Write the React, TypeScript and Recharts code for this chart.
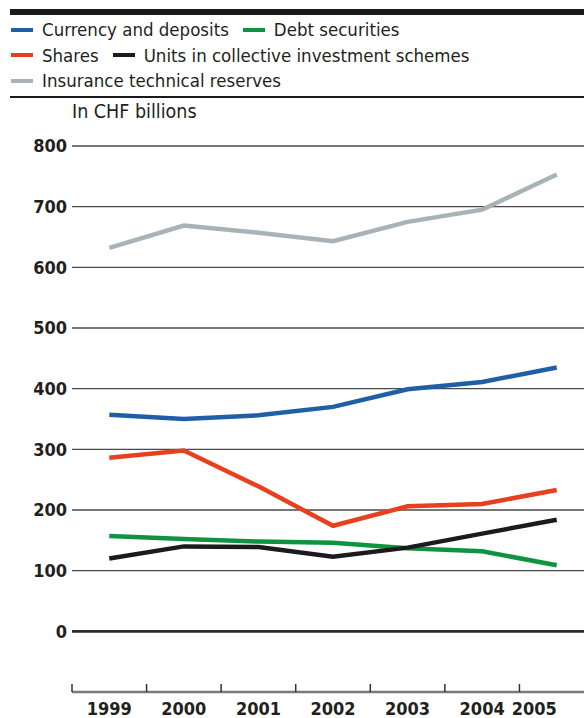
import React from "react"
import { LineChart, Line, XAxis, YAxis, CartesianGrid, ReferenceLine } from "recharts"

const years = ["1999", "2000", "2001", "2002", "2003", "2004", "2005"]
const currencyDeposits = [357, 350, 356, 370, 399, 411, 435]
const debtSecurities = [157, 152, 148, 146, 137, 132, 109]
const shares = [286, 298, 239, 174, 206, 210, 233]
const collectiveUnits = [120, 140, 139, 123, 138, 161, 184]
const insuranceReserves = [632, 669, 657, 643, 675, 695, 753]
const yTicks = [0, 100, 200, 300, 400, 500, 600, 700, 800]

const series = [
  { key: "currency", name: "Currency and deposits", color: "#1f5fa6", values: currencyDeposits },
  { key: "debt", name: "Debt securities", color: "#0e9440", values: debtSecurities },
  { key: "shares", name: "Shares", color: "#e8401e", values: shares },
  { key: "units", name: "Units in collective investment schemes", color: "#1c1a1f", values: collectiveUnits },
  { key: "insurance", name: "Insurance technical reserves", color: "#a9b3b7", values: insuranceReserves },
]

const legendRows = [["currency", "debt"], ["shares", "units"], ["insurance"]]

const FONT = "'DejaVu Sans Condensed', 'DejaVu Sans', sans-serif"
const CHART_W = 594
const Y_AXIS_W = 72
const HALF_STEP = (CHART_W - Y_AXIS_W) / years.length / 2

const data = years.map((year, i) => {
  const row: Record<string, string | number> = { year }
  series.forEach((s) => (row[s.key] = s.values[i]))
  return row
})

function YearTick({ x, y, payload, index }: any) {
  const last = index === years.length - 1
  return (
    <g>
      <line x1={x - HALF_STEP} y1={y - 8} x2={x - HALF_STEP} y2={y} stroke="#333" strokeWidth={1.5} />
      <text
        x={x}
        y={y + 23}
        textAnchor={last ? "end" : "middle"}
        fontSize={18}
        fontWeight={700}
        fontFamily={FONT}
        fill="#231f20"
      >
        {payload.value}
      </text>
    </g>
  )
}

export default function App() {
  return (
    <div
      style={{
        position: "absolute", left: 0, top: 0, width: 584, height: 718,
        overflow: "hidden", background: "#fff", fontFamily: FONT, color: "#231f20",
      }}
    >
      <div style={{ position: "absolute", left: 10, right: 0, top: 9, height: 6, background: "#1a1a1a" }} />
      {legendRows.map((row, r) => (
        <div
          key={r}
          style={{
            position: "absolute", left: 11, top: 17 + r * 25.5, height: 25, lineHeight: "25px",
            display: "flex", alignItems: "center", fontSize: 18.5, whiteSpace: "nowrap",
          }}
        >
          {row.map((k) => {
            const s = series.find((d) => d.key === k)!
            return (
              <span key={k} style={{ display: "flex", alignItems: "center", marginRight: 14 }}>
                <span style={{ width: 22, height: 4, background: s.color, marginRight: 9 }} />
                {s.name}
              </span>
            )
          })}
        </div>
      ))}
      <div style={{ position: "absolute", left: 10, right: 0, top: 96, height: 1.5, background: "#1a1a1a" }} />
      <div style={{ position: "absolute", left: 72, top: 99, fontSize: 19.5, lineHeight: "25px" }}>In CHF billions</div>

      <div style={{ position: "absolute", left: 0, top: 0 }}>
        <LineChart width={CHART_W} height={718} data={data} margin={{ top: 146, right: 0, bottom: 0, left: 0 }}>
          <CartesianGrid vertical={false} stroke="#4a4a4a" strokeWidth={1.3} />
          <XAxis
            dataKey="year"
            padding={{ left: HALF_STEP, right: HALF_STEP }}
            interval={0}
            tickLine={false}
            tickSize={0}
            tickMargin={0}
            axisLine={{ stroke: "#7a7a7a", strokeWidth: 2.5 }}
            tick={<YearTick />}
            height={26}
          />
          <YAxis
            width={Y_AXIS_W}
            domain={[-100, 800]}
            ticks={yTicks}
            interval={0}
            axisLine={false}
            tickLine={false}
            tickSize={3}
            tickMargin={2}
            tick={{ fontSize: 18, fontWeight: 700, fill: "#231f20", fontFamily: FONT }}
          />
          <ReferenceLine y={0} stroke="#2a2a2a" strokeWidth={2.8} />
          {series.map((s) => (
            <Line
              key={s.key}
              dataKey={s.key}
              name={s.name}
              stroke={s.color}
              strokeWidth={4.5}
              dot={false}
              type="linear"
              isAnimationActive={false}
            />
          ))}
        </LineChart>
      </div>
    </div>
  )
}
